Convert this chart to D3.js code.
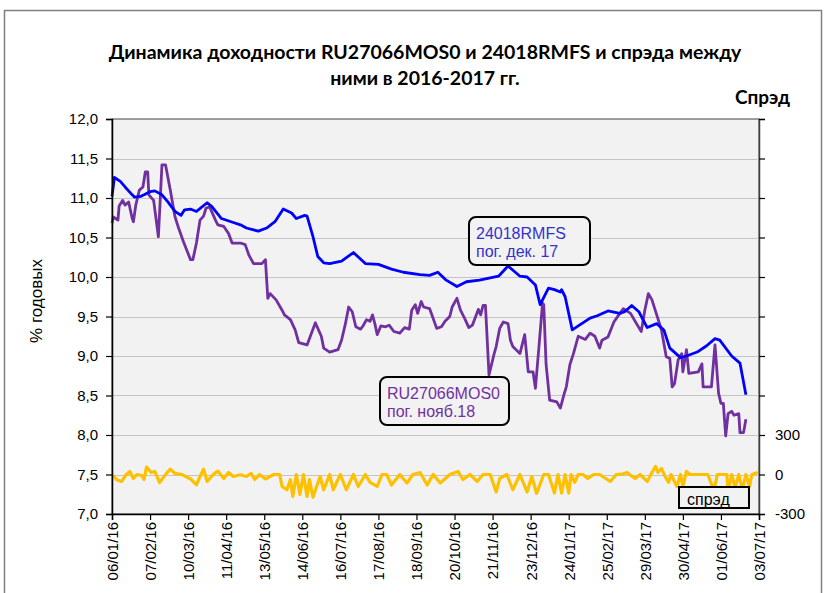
<!DOCTYPE html>
<html>
<head>
<meta charset="utf-8">
<script src="https://cdn.jsdelivr.net/npm/d3@7"></script>
<style>
  body { margin: 0; background: #fff; }
  svg { display: block; font-family: "Liberation Sans", Arial, sans-serif; }
</style>
</head>
<body>
<div id="chart"></div>
<script>
var width = 827,
  height = 593,
  plotLeft = 112,
  plotRight = 759,
  plotTop = 119,
  plotBottom = 514;

// tick labels
var xTickLabels = ["06/01/16", "07/02/16", "10/03/16", "11/04/16", "13/05/16", "14/06/16",
  "16/07/16", "17/08/16", "18/09/16", "20/10/16", "21/11/16", "23/12/16", "24/01/17",
  "25/02/17", "29/03/17", "30/04/17", "01/06/17", "03/07/17"];
var yTicks = [7.0, 7.5, 8.0, 8.5, 9.0, 9.5, 10.0, 10.5, 11.0, 11.5, 12.0];
var spreadLabels = [-300, 0, 300];
var spreadTicks = [-300, 0, 300, 600, 900, 1200, 1500, 1800, 2100, 2400, 2700];

// 24018RMFS, % годовых
var rmfsDates = ["06.01.16", "08.01.16", "13.01.16", "17.01.16", "23.01.16", "25.01.16", "30.01.16",
  "07.02.16", "11.02.16", "17.02.16", "22.02.16", "28.02.16", "04.03.16", "07.03.16", "12.03.16",
  "17.03.16", "26.03.16", "30.03.16", "07.04.16", "17.04.16", "23.04.16", "28.04.16", "08.05.16",
  "15.05.16", "22.05.16", "29.05.16", "05.06.16", "09.06.16", "16.06.16", "18.06.16", "23.06.16",
  "27.06.16", "02.07.16", "07.07.16", "17.07.16", "27.07.16", "06.08.16", "17.08.16", "28.08.16",
  "07.09.16", "21.09.16", "29.09.16", "06.10.16", "13.10.16", "22.10.16", "30.10.16", "10.11.16",
  "26.11.16", "04.12.16", "14.12.16", "20.12.16", "27.12.16", "31.12.16", "04.01.17", "07.01.17",
  "12.01.17", "17.01.17", "18.01.17", "21.01.17", "27.01.17", "02.02.17", "11.02.17", "17.02.17",
  "26.02.17", "08.03.17", "12.03.17", "18.03.17", "24.03.17", "31.03.17", "08.04.17", "14.04.17",
  "19.04.17", "28.04.17", "03.05.17", "12.05.17", "20.05.17", "27.05.17", "31.05.17", "10.06.17",
  "17.06.17", "22.06.17"];
var rmfsYield = [11.02, 11.26, 11.21, 11.14, 11.04, 11.01, 11.02,
  11.08, 11.09, 11.04, 10.95, 10.83, 10.78, 10.85, 10.86,
  10.83, 10.94, 10.89, 10.74, 10.69, 10.66, 10.62, 10.58,
  10.62, 10.70, 10.86, 10.81, 10.74, 10.78, 10.77, 10.51,
  10.26, 10.18, 10.17, 10.20, 10.31, 10.17, 10.16, 10.10,
  10.06, 10.03, 10.02, 10.06, 9.96, 9.88, 9.94, 9.96,
  10.01, 10.14, 10.01, 10.00, 9.90, 9.65, 9.77, 9.86,
  9.84, 9.81, 9.84, 9.75, 9.33, 9.39, 9.48, 9.51,
  9.57, 9.54, 9.56, 9.64, 9.56, 9.36, 9.41, 9.33,
  9.10, 8.98, 9.00, 9.05, 9.13, 9.22, 9.20, 9.00,
  8.91, 8.51];

// RU27066MOS0, % годовых
var mosDates = ["06.01.16", "07.01.16", "09.01.16", "11.01.16", "12.01.16", "15.01.16", "17.01.16",
  "20.01.16", "23.01.16", "24.01.16", "26.01.16", "29.01.16", "01.02.16", "03.02.16", "05.02.16",
  "06.02.16", "10.02.16", "14.02.16", "17.02.16", "20.02.16", "24.02.16", "28.02.16", "02.03.16",
  "06.03.16", "12.03.16", "14.03.16", "17.03.16", "20.03.16", "23.03.16", "25.03.16", "28.03.16",
  "02.04.16", "04.04.16", "09.04.16", "13.04.16", "16.04.16", "23.04.16", "27.04.16", "30.04.16",
  "04.05.16", "11.05.16", "14.05.16", "16.05.16", "18.05.16", "23.05.16", "28.05.16", "30.05.16",
  "04.06.16", "08.06.16", "11.06.16", "18.06.16", "25.06.16", "30.06.16", "02.07.16", "07.07.16",
  "14.07.16", "17.07.16", "20.07.16", "23.07.16", "26.07.16", "29.07.16", "02.08.16", "04.08.16",
  "07.08.16", "10.08.16", "12.08.16", "14.08.16", "16.08.16", "19.08.16", "23.08.16", "26.08.16",
  "30.08.16", "04.09.16", "08.09.16", "12.09.16", "14.09.16", "17.09.16", "19.09.16", "22.09.16",
  "24.09.16", "29.09.16", "01.10.16", "05.10.16", "09.10.16", "12.10.16", "16.10.16", "18.10.16",
  "22.10.16", "25.10.16", "29.10.16", "01.11.16", "04.11.16", "09.11.16", "11.11.16", "13.11.16",
  "15.11.16", "18.11.16", "22.11.16", "24.11.16", "27.11.16", "30.11.16", "04.12.16", "06.12.16",
  "08.12.16", "14.12.16", "18.12.16", "21.12.16", "25.12.16",
  "27.12.16", "30.12.16", "02.01.17", "03.01.17", "05.01.17", "08.01.17", "14.01.17", "17.01.17",
  "20.01.17", "22.01.17", "25.01.17", "28.01.17", "01.02.17", "07.02.17", "11.02.17", "15.02.17",
  "19.02.17", "21.02.17", "26.02.17", "03.03.17", "08.03.17", "11.03.17", "17.03.17", "22.03.17",
  "26.03.17", "29.03.17", "01.04.17", "04.04.17", "08.04.17", "12.04.17", "16.04.17", "19.04.17",
  "21.04.17", "23.04.17", "26.04.17", "29.04.17", "30.04.17", "03.05.17", "05.05.17", "13.05.17",
  "16.05.17", "17.05.17", "24.05.17", "27.05.17", "30.05.17", "01.06.17", "03.06.17", "05.06.17",
  "07.06.17", "10.06.17", "12.06.17", "16.06.17", "17.06.17", "20.06.17", "22.06.17"];
var mosYield = [10.68, 10.76, 10.74, 10.72, 10.90, 10.97, 10.91,
  10.95, 10.74, 10.70, 10.91, 11.10, 11.14, 11.33, 11.33,
  11.04, 10.97, 10.51, 11.42, 11.42, 11.10, 10.76, 10.62,
  10.45, 10.22, 10.22, 10.43, 10.72, 10.77, 10.87, 10.89,
  10.72, 10.66, 10.64, 10.55, 10.43, 10.43, 10.41, 10.28,
  10.17, 10.17, 10.22, 9.73, 9.79, 9.71, 9.58, 9.52,
  9.46, 9.33, 9.17, 9.14, 9.42, 9.25, 9.10, 9.05,
  9.08, 9.20, 9.39, 9.62, 9.56, 9.37, 9.34, 9.38,
  9.46, 9.44, 9.52, 9.41, 9.27, 9.38, 9.37, 9.39,
  9.31, 9.29, 9.36, 9.34, 9.58, 9.65, 9.54, 9.69,
  9.62, 9.60, 9.52, 9.35, 9.37, 9.44, 9.50, 9.62,
  9.73, 9.58, 9.46, 9.36, 9.39, 9.59, 9.52, 9.64,
  9.64, 8.76, 9.01, 9.12, 9.35, 9.43, 9.41, 9.20,
  9.12, 9.03, 9.27, 8.80, 8.80,
  8.59, 9.12, 9.67, 9.65, 8.89, 8.44, 8.42, 8.34,
  8.51, 8.61, 8.89, 9.03, 9.25, 9.21, 9.29, 9.25,
  9.10, 9.20, 9.24, 9.43, 9.54, 9.60, 9.54, 9.41,
  9.31, 9.58, 9.79, 9.71, 9.52, 9.33, 8.99, 8.97,
  8.61, 8.65, 8.95, 9.03, 8.80, 9.08, 8.78, 8.80,
  8.90, 8.61, 8.61, 9.14, 8.53, 8.40, 8.40, 7.99,
  8.27, 8.30, 8.25, 8.27, 8.03, 8.03, 8.20];

// спрэд, б.п.
var spreadDates = ["06.01.16", "10.01.16", "14.01.16", "18.01.16", "21.01.16", "24.01.16", "27.01.16",
  "31.01.16", "02.02.16", "04.02.16", "08.02.16", "11.02.16", "15.02.16", "20.02.16", "24.02.16",
  "28.02.16", "05.03.16", "12.03.16", "17.03.16", "20.03.16", "23.03.16", "26.03.16", "31.03.16",
  "04.04.16", "09.04.16", "13.04.16", "17.04.16", "23.04.16", "28.04.16", "02.05.16", "05.05.16",
  "09.05.16", "14.05.16", "21.05.16", "26.05.16", "28.05.16", "01.06.16", "04.06.16", "06.06.16",
  "09.06.16", "12.06.16", "15.06.16", "18.06.16", "20.06.16", "23.06.16", "26.06.16", "29.06.16",
  "02.07.16", "07.07.16", "10.07.16", "16.07.16", "21.07.16", "27.07.16", "31.07.16", "06.08.16",
  "10.08.16", "16.08.16", "20.08.16", "24.08.16", "28.08.16", "04.09.16", "10.09.16", "15.09.16",
  "21.09.16", "27.09.16", "02.10.16", "08.10.16", "16.10.16", "23.10.16", "27.10.16", "02.11.16",
  "08.11.16", "13.11.16", "19.11.16", "24.11.16", "27.11.16", "03.12.16", "08.12.16", "14.12.16",
  "20.12.16", "24.12.16", "28.12.16", "03.01.17", "07.01.17", "12.01.17", "15.01.17", "18.01.17",
  "21.01.17", "24.01.17", "26.01.17", "29.01.17", "01.02.17", "05.02.17", "09.02.17", "14.02.17",
  "19.02.17", "28.02.17", "05.03.17", "11.03.17", "14.03.17", "16.03.17", "21.03.17", "25.03.17",
  "31.03.17", "04.04.17", "07.04.17", "09.04.17", "12.04.17", "15.04.17", "18.04.17", "20.04.17",
  "25.04.17", "28.04.17", "30.04.17", "03.05.17", "06.05.17", "17.05.17", "21.05.17", "26.05.17",
  "29.05.17", "06.06.17", "07.06.17", "10.06.17", "13.06.17", "16.06.17", "19.06.17", "22.06.17",
  "25.06.17", "27.06.17", "02.07.17"];
var spreadBp = [0, -40, -53, 0, 23, -30, 0,
  -8, -38, 56, 15, 23, -61, 0, 41,
  8, -1, -34, -78, -15, 41, -53, 0,
  26, -30, 15, -15, -2, -15, 8, -38,
  0, -34, 0, 0, -91, -116, -40, -167,
  0, -152, 0, -167, -38, -172, -91, -15,
  -116, 0, -116, 0, -116, 0, -91, 0,
  -60, -91, 0, 0, -80, 0, -65, 0,
  15, -80, 0, -65, 0, 23, -38, 0,
  -53, 0, 0, -133, -30, 0, -116, 0,
  -133, -15, -144, 0, 0, -141, 0, -141,
  0, -141, 0, -60, 0, 0, -30, 0,
  0, -53, 0, 5, 15, 0, -30, 0,
  -53, 15, 61, 15, 46, -15, -60, 0,
  -91, 0, -91, 23, 0, 0, 0, -120,
  0, 0, -130, 0, -100, 0, -115, 0,
  -91, 0, 15];

var parseDay = d3.timeParse("%d.%m.%y"),
  parseTick = d3.timeParse("%d/%m/%y"),
  formatTick = d3.timeFormat("%d/%m/%y");

function toPoints(dates, values) {
  return dates.map(function (d, i) { return { date: parseDay(d), value: values[i] }; });
}

var x = d3.scaleTime()
  .domain([parseTick(xTickLabels[0]), parseTick(xTickLabels[xTickLabels.length - 1])])
  .range([plotLeft, plotRight]);

var y = d3.scaleLinear()
  .domain([7, 12])
  .range([plotBottom, plotTop]);

var ySpread = d3.scaleLinear()
  .domain([-300, 2700])
  .range([plotBottom, plotTop]);

var svg = d3.select("#chart").append("svg")
  .attr("width", width)
  .attr("height", height);

// outer frame
svg.append("rect")
  .attr("x", 4.5)
  .attr("y", 10.5)
  .attr("width", 817)
  .attr("height", 600)
  .attr("fill", "#fff")
  .attr("stroke", "#808080")
  .attr("stroke-width", 1.5);

// title
var title = svg.append("text")
  .attr("text-anchor", "middle")
  .attr("font-family", "Lato, 'Open Sans', sans-serif")
  .attr("font-weight", "bold")
  .attr("font-size", 19.5)
  .attr("fill", "#000");

title.append("tspan").attr("x", 425).attr("y", 59)
  .text("Динамика доходности RU27066MOS0 и 24018RMFS и спрэда между");
title.append("tspan").attr("x", 425).attr("y", 85)
  .text("ними в 2016-2017 гг.");

svg.append("text")
  .attr("x", 790)
  .attr("y", 104)
  .attr("text-anchor", "end")
  .attr("font-family", "Lato, 'Open Sans', sans-serif")
  .attr("font-weight", "bold")
  .attr("font-size", 19)
  .text("Спрэд");

// plot area
svg.append("rect")
  .attr("x", plotLeft)
  .attr("y", plotTop)
  .attr("width", plotRight - plotLeft)
  .attr("height", plotBottom - plotTop)
  .attr("fill", "#f2f2f2")
  .attr("stroke", "#404040")
  .attr("stroke-width", 1);

// gridlines at every left-axis tick
svg.append("g")
  .attr("class", "grid")
  .selectAll("path")
  .data(yTicks.slice(1, -1))
  .enter()
  .append("path")
  .attr("d", function (d) {
    var gy = Math.round(y(d)) + 0.5;
    return "M" + plotLeft + "," + gy + "H" + plotRight;
  })
  .attr("fill", "none")
  .attr("stroke", "#c4c4c4")
  .attr("stroke-width", 1);

// series
var line = d3.line()
  .x(function (d) { return x(d.date); })
  .y(function (d) { return y(d.value); });

var spreadLine = d3.line()
  .x(function (d) { return x(d.date); })
  .y(function (d) { return ySpread(d.value); });

svg.append("path")
  .datum(toPoints(spreadDates, spreadBp))
  .attr("d", spreadLine)
  .attr("fill", "none")
  .attr("stroke", "#ffc000")
  .attr("stroke-width", 3.2)
  .attr("stroke-linejoin", "round");

svg.append("path")
  .datum(toPoints(mosDates, mosYield))
  .attr("d", line)
  .attr("fill", "none")
  .attr("stroke", "#7030a0")
  .attr("stroke-width", 2.8)
  .attr("stroke-linejoin", "round");

svg.append("path")
  .datum(toPoints(rmfsDates, rmfsYield))
  .attr("d", line)
  .attr("fill", "none")
  .attr("stroke", "#0000ff")
  .attr("stroke-width", 2.8)
  .attr("stroke-linejoin", "round");

// axes
var yAxis = svg.append("g")
  .attr("transform", "translate(" + plotLeft + ",0)")
  .call(d3.axisLeft(y)
    .tickValues(yTicks)
    .tickSize(6)
    .tickPadding(8)
    .tickFormat(function (d) { return d.toFixed(1).replace(".", ","); }));

var spreadAxis = svg.append("g")
  .attr("transform", "translate(" + plotRight + ",0)")
  .call(d3.axisRight(ySpread)
    .tickValues(spreadTicks)
    .tickSize(6)
    .tickPadding(10)
    .tickFormat(function (d) { return spreadLabels.indexOf(d) >= 0 ? d : ""; }));

var xAxis = svg.append("g")
  .attr("transform", "translate(0," + plotBottom + ")")
  .call(d3.axisBottom(x)
    .tickValues(xTickLabels.map(parseTick))
    .tickSize(6)
    .tickFormat(formatTick));

xAxis.selectAll("text")
  .attr("transform", "rotate(-90)")
  .attr("text-anchor", "end")
  .attr("x", -8)
  .attr("y", 0)
  .attr("dy", "0.36em");

[yAxis, spreadAxis, xAxis].forEach(function (a) {
  a.selectAll("text")
    .attr("font-family", "'Liberation Sans', Arial, sans-serif")
    .attr("font-size", 15)
    .attr("fill", "#000");
  a.select(".domain").attr("stroke", "#000").attr("stroke-width", 1.5);
  a.selectAll(".tick line").attr("stroke", "#000").attr("stroke-width", 1.2);
});
spreadAxis.select(".domain").attr("stroke", "#404040");
spreadAxis.selectAll(".tick text").filter(function (d) { return spreadLabels.indexOf(d) < 0; }).remove();

svg.append("text")
  .attr("transform", "translate(42,301) rotate(-90)")
  .attr("text-anchor", "middle")
  .attr("font-size", 17)
  .text("% годовых");

// callouts
function callout(bx, by, bw, bh, color, lines) {
  var g = svg.append("g");
  g.append("rect")
    .attr("x", bx)
    .attr("y", by)
    .attr("width", bw)
    .attr("height", bh)
    .attr("rx", 7)
    .attr("fill", "#f2f2f2")
    .attr("stroke", "#000")
    .attr("stroke-width", 2);
  g.selectAll("text")
    .data(lines)
    .enter()
    .append("text")
    .attr("x", bx + 7)
    .attr("y", function (d, i) { return by + 22 + i * 18; })
    .attr("font-size", 16)
    .attr("fill", color)
    .text(function (d) { return d; });
}

callout(469, 217, 121, 48, "#3333cc", ["24018RMFS", "пог. дек. 17"]);
callout(380, 377, 129, 48, "#7030a0", ["RU27066MOS0", "пог. нояб.18"]);

// legend
svg.append("rect")
  .attr("x", 679)
  .attr("y", 487)
  .attr("width", 70)
  .attr("height", 21)
  .attr("fill", "#f2f2f2")
  .attr("stroke", "#000")
  .attr("stroke-width", 2);

svg.append("text")
  .attr("x", 687)
  .attr("y", 505)
  .attr("font-size", 16)
  .text("спрэд");
</script>
</body>
</html>
